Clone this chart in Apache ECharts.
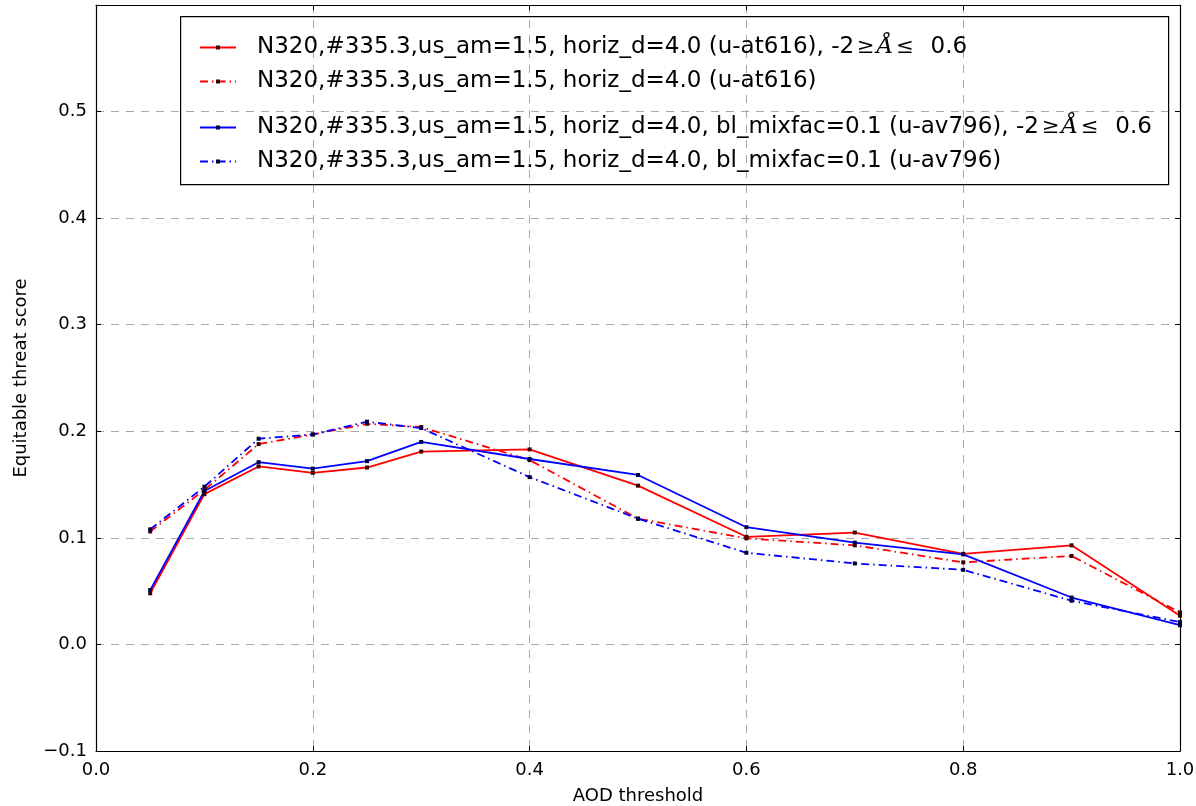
<!DOCTYPE html>
<html><head><meta charset="utf-8">
<script src="https://cdn.jsdelivr.net/npm/echarts@6/dist/echarts.min.js"></script>
<style>html,body{margin:0;padding:0;background:#fff}#c{width:1196px;height:806px}</style>
</head><body><div id="c"></div>
<script>
// ---- data ----
const thresholds = [0.05, 0.1, 0.15, 0.2, 0.25, 0.3, 0.4, 0.5, 0.6, 0.7, 0.8, 0.9, 1.0];
const redSolid  = [0.048, 0.141, 0.167, 0.161, 0.166, 0.181, 0.183, 0.149, 0.101, 0.105, 0.085, 0.093, 0.027];
const redDash   = [0.106, 0.145, 0.188, 0.197, 0.207, 0.204, 0.173, 0.118, 0.0995, 0.093, 0.077, 0.083, 0.030];
const blueSolid = [0.051, 0.144, 0.171, 0.165, 0.172, 0.190, 0.174, 0.159, 0.110, 0.0955, 0.0845, 0.044, 0.018];
const blueDash  = [0.108, 0.148, 0.193, 0.197, 0.209, 0.203, 0.157, 0.118, 0.086, 0.076, 0.070, 0.041, 0.021];
const seriesNames = [
  'N320,#335.3,us_am=1.5, horiz_d=4.0 (u-at616), -2',
  'N320,#335.3,us_am=1.5, horiz_d=4.0 (u-at616)',
  'N320,#335.3,us_am=1.5, horiz_d=4.0, bl_mixfac=0.1 (u-av796), -2',
  'N320,#335.3,us_am=1.5, horiz_d=4.0, bl_mixfac=0.1 (u-av796)'
];
const hasAngstrom = [true, false, true, false];
const xAxisTitle = 'AOD threshold';
const yAxisTitle = 'Equitable threat score';

// ---- chart ----
const chart = echarts.init(document.getElementById('c'), null, {renderer: 'canvas'});
const values = [redSolid, redDash, blueSolid, blueDash];
const colors = ['#ff0000', '#ff0000', '#0000ff', '#0000ff'];
const dashed = [false, true, false, true];
const markerColors = ['#3a0000', '#3a0000', '#00003a', '#00003a'];
const dashDot = [8, 4, 1.5, 4];

const series = values.map((vals, i) => ({
  name: seriesNames[i],
  type: 'line',
  data: thresholds.map((x, j) => [x, vals[j]]),
  symbol: 'rect',
  symbolSize: 4,
  showSymbol: true,
  itemStyle: {color: markerColors[i]},
  lineStyle: {color: colors[i], width: 1.8, type: dashed[i] ? dashDot : 'solid'},
  z: 3,
  animation: false
}));

const legendCenters = [44, 78, 124, 158];
const legends = seriesNames.map((name, i) => ({
  data: [name],
  left: 194,
  top: legendCenters[i] - 13,
  itemWidth: 36,
  itemHeight: 5,
  selectedMode: false,
  formatter: n => '{sp|}{t|' + n + '}' + (hasAngstrom[i] ? '{m|≥}{a|Å}{m|≤}{t|  0.6}' : ''),
  textStyle: {
    fontFamily: 'DejaVu Sans', fontSize: 23, color: '#000',
    rich: {
      sp: {width: 16},
      t: {fontFamily: 'DejaVu Sans', fontSize: 23, color: '#000', lineHeight: 26},
      m: {fontFamily: 'DejaVu Serif', fontSize: 21, color: '#000', lineHeight: 26, padding: [0, 2, 0, 3]},
      a: {fontFamily: 'DejaVu Serif', fontStyle: 'italic', fontSize: 23, color: '#000', lineHeight: 26}
    }
  }
}));

const fmt = v => {
  if (v > 0.55) return '';
  const s = v.toFixed(1);
  return s === '-0.0' ? '0.0' : s.replace('-', '\u2212');
};

const tickFont = {fontFamily: 'DejaVu Sans', fontSize: 18, color: '#000'};
const gridLine = {show: true, lineStyle: {color: '#a8a8a8', type: [8, 7], width: 1}};

chart.setOption({
  backgroundColor: '#fff',
  animation: false,
  grid: {left: 96, right: 16, top: 5, bottom: 55, containLabel: false, outerBoundsMode: 'none'},
  legend: legends,
  graphic: [{
    type: 'rect', left: 180, top: 16, z: 10,
    shape: {width: 988, height: 168},
    style: {fill: 'rgba(0,0,0,0)', stroke: '#000', lineWidth: 1.2}
  }],
  xAxis: [{
    type: 'value', min: 0, max: 1, interval: 0.2,
    name: xAxisTitle, nameLocation: 'middle', nameGap: 36,
    nameTextStyle: {fontFamily: 'DejaVu Sans', fontSize: 18, color: '#000'},
    axisLine: {show: true, onZero: false, lineStyle: {color: '#000', width: 1.2}},
    axisTick: {show: true, inside: true, length: 5, lineStyle: {color: '#000'}},
    axisLabel: {...tickFont, margin: 10, formatter: v => v.toFixed(1)},
    splitLine: gridLine
  }, {
    type: 'value', min: 0, max: 1, interval: 0.2, position: 'top',
    axisLine: {show: true, onZero: false, lineStyle: {color: '#000', width: 1.2}},
    axisTick: {show: true, inside: true, length: 5, lineStyle: {color: '#000'}},
    axisLabel: {show: false}, splitLine: {show: false}
  }],
  yAxis: [{
    type: 'value', min: -0.1, max: 0.6, interval: 0.1,
    name: yAxisTitle, nameLocation: 'middle', nameGap: 66,
    nameTextStyle: {fontFamily: 'DejaVu Sans', fontSize: 18, color: '#000'},
    axisLine: {show: true, onZero: false, lineStyle: {color: '#000', width: 1.2}},
    axisTick: {show: true, inside: true, length: 5, lineStyle: {color: '#000'}},
    axisLabel: {...tickFont, margin: 9, formatter: fmt},
    splitLine: gridLine
  }, {
    type: 'value', min: -0.1, max: 0.6, interval: 0.1, position: 'right',
    axisLine: {show: true, onZero: false, lineStyle: {color: '#000', width: 1.2}},
    axisTick: {show: true, inside: true, length: 5, lineStyle: {color: '#000'}},
    axisLabel: {show: false}, splitLine: {show: false}
  }],
  series: series
});
</script>
</body></html>
